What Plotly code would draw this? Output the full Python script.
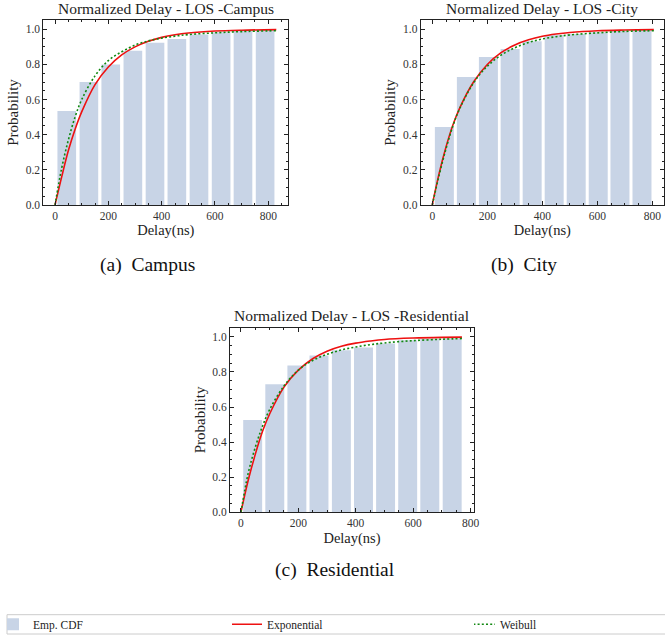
import plotly.graph_objects as go

W, H = 665, 638

# ---------------- data ----------------
titles = ["Normalized Delay - LOS -Campus", "Normalized Delay - LOS -City", "Normalized Delay - LOS -Residential"]
captions = ["(a)  Campus", "(b)  City", "(c)  Residential"]

campus_bins = [44, 127, 209, 292, 375, 457, 540, 623, 705, 788]
campus_cdf = [0.535, 0.700, 0.800, 0.878, 0.924, 0.945, 0.970, 0.983, 0.990, 0.994]
city_bins = [44, 124, 204, 283, 363, 443, 523, 603, 682, 762]
city_cdf = [0.444, 0.729, 0.843, 0.888, 0.932, 0.968, 0.973, 0.983, 0.990, 0.994]
res_bins = [41, 118, 195, 272, 350, 427, 504, 581, 658, 736]
res_cdf = [0.526, 0.730, 0.837, 0.894, 0.924, 0.939, 0.962, 0.981, 0.989, 0.992]

curve_x_campus = [0, 25, 50, 75, 100, 150, 200, 250, 300, 350, 400, 450, 500, 600, 700, 830]
exp_campus = [0, 0.16, 0.31, 0.43, 0.53, 0.685, 0.785, 0.854, 0.900, 0.932, 0.954, 0.969, 0.979, 0.990, 0.995, 0.998]
wei_campus = [0, 0.21, 0.37, 0.50, 0.60, 0.735, 0.822, 0.872, 0.910, 0.934, 0.950, 0.961, 0.970, 0.980, 0.987, 0.992]

curve_x_city = [0, 25, 50, 75, 100, 150, 200, 250, 300, 350, 400, 450, 500, 600, 700, 805]
exp_city = [0, 0.18, 0.33, 0.455, 0.553, 0.700, 0.800, 0.867, 0.911, 0.940, 0.960, 0.973, 0.982, 0.992, 0.996, 0.998]
wei_city = [0, 0.17, 0.32, 0.450, 0.550, 0.695, 0.790, 0.853, 0.895, 0.925, 0.945, 0.958, 0.968, 0.980, 0.988, 0.992]

curve_x_res = [0, 25, 50, 75, 100, 150, 200, 250, 300, 350, 400, 450, 500, 600, 700, 770]
exp_res = [0, 0.18, 0.33, 0.46, 0.56, 0.713, 0.810, 0.875, 0.918, 0.946, 0.964, 0.976, 0.985, 0.993, 0.997, 0.998]
wei_res = [0, 0.22, 0.37, 0.49, 0.585, 0.720, 0.810, 0.865, 0.900, 0.925, 0.942, 0.955, 0.965, 0.978, 0.986, 0.990]

x_ticks = [0, 200, 400, 600, 800]
y_ticks = [0.0, 0.2, 0.4, 0.6, 0.8, 1.0]
legend_names = ["Emp. CDF", "Exponential", "Weibull"]

# ---------------- layout geometry (pixels) ----------------
panels = [
    dict(bins=campus_bins, cdf=campus_cdf, cx=curve_x_campus, ex=exp_campus, wb=wei_campus,
         px=(43.3, 288.3), py=(20, 205), xr=[-44, 875], bw=70),
    dict(bins=city_bins, cdf=city_cdf, cx=curve_x_city, ex=exp_city, wb=wei_city,
         px=(420.7, 664), py=(20, 205), xr=[-42, 842], bw=69),
    dict(bins=res_bins, cdf=res_cdf, cx=curve_x_res, ex=exp_res, wb=wei_res,
         px=(230, 474), py=(327.5, 512.3), xr=[-38, 812], bw=66),
]

SERIF = "Liberation Serif"
BAR = "#c8d4e6"
FRAME = "#222222"

fig = go.Figure()
layout = dict(
    width=W, height=H, margin=dict(l=0, r=0, t=0, b=0, autoexpand=False),
    paper_bgcolor="white", plot_bgcolor="white",
    font=dict(family=SERIF, size=12, color="#222"),
    showlegend=True,
    annotations=[],
    shapes=[],
)

for i, p in enumerate(panels):
    n = "" if i == 0 else str(i + 1)
    xa, ya = "x" + n, "y" + n
    fig.add_trace(go.Bar(x=p["bins"], y=p["cdf"], width=p["bw"], marker=dict(color=BAR, line=dict(width=0)),
                         name=legend_names[0], legendgroup="emp", showlegend=(i == 0), xaxis=xa, yaxis=ya,
                         legend="legend"))
    fig.add_trace(go.Scatter(x=p["cx"], y=p["ex"], mode="lines", line=dict(color="#ee1111", width=1.6, shape="spline"),
                             name=legend_names[1], legendgroup="exp", showlegend=(i == 0), xaxis=xa, yaxis=ya,
                             legend="legend"))
    fig.add_trace(go.Scatter(x=p["cx"], y=p["wb"], mode="lines",
                             line=dict(color="#118811", width=1.6, dash="2px,2.2px", shape="spline"),
                             name=legend_names[2], legendgroup="wei", showlegend=(i == 0), xaxis=xa, yaxis=ya,
                             legend="legend2"))
    x0, x1 = p["px"]
    y0, y1 = p["py"]
    common = dict(showline=True, linecolor=FRAME, linewidth=1, mirror="allticks", ticks="inside",
                  tickcolor=FRAME, ticklen=4, tickwidth=1, showgrid=False, zeroline=False, automargin=False,
                  tickfont=dict(family=SERIF, size=11.5, color="#333"))
    layout["xaxis" + n] = dict(common, domain=[x0 / W, x1 / W], range=p["xr"], anchor=ya,
                               tickvals=x_ticks, ticktext=[str(v) for v in x_ticks],
                               minor=dict(ticks="inside", dtick=50, tick0=0, ticklen=2, tickcolor=FRAME),
                               title=dict(text="Delay(ns)", font=dict(family=SERIF, size=14.5, color="#222"), standoff=4))
    layout["yaxis" + n] = dict(common, domain=[1 - y1 / H, 1 - y0 / H], range=[0, 1.053], anchor=xa,
                               tickvals=y_ticks, ticktext=["%.1f" % v for v in y_ticks],
                               minor=dict(ticks="inside", dtick=0.05, tick0=0, ticklen=2, tickcolor=FRAME),
                               title=dict(text="Probability", font=dict(family=SERIF, size=15, color="#222"), standoff=3))
    # panel title
    layout["annotations"].append(dict(text=titles[i], x=(x0 + x1) / 2 / W, y=1 - (y0 - 11.5) / H,
                                      xref="paper", yref="paper", showarrow=False,
                                      font=dict(family=SERIF, size=15.5, color="#222"),
                                      xanchor="center", yanchor="middle"))

cap_pos = [(147, 265), (524, 265), (335, 570)]
for c, (cx, cy) in zip(captions, cap_pos):
    layout["annotations"].append(dict(text=c, x=cx / W, y=1 - cy / H, xref="paper", yref="paper",
                                      showarrow=False, font=dict(family=SERIF, size=19.5, color="#111"),
                                      xanchor="center", yanchor="middle"))

# legend frame spanning the full bottom strip
layout["shapes"].append(dict(type="rect", xref="paper", yref="paper", x0=7 / W, x1=720 / W,
                             y0=1 - 634 / H, y1=1 - 614.7 / H, line=dict(color="#cccccc", width=1),
                             fillcolor="white", layer="below"))
leg_common = dict(orientation="h", xanchor="left", yanchor="middle", y=1 - 624.3 / H,
                  bgcolor="rgba(0,0,0,0)", borderwidth=0,
                  font=dict(family=SERIF, size=11.5, color="#222"), indentation=-14, tracegroupgap=0)
layout["legend"] = dict(leg_common, x=7 / W, entrywidth=203, entrywidthmode="pixels")
layout["legend2"] = dict(leg_common, x=(7 + 467) / W)

fig.update_layout(**layout)
fig.write_html("out.html", config={"displayModeBar": False},
               post_script="document.body.style.margin='0';document.body.style.overflow='hidden';")
